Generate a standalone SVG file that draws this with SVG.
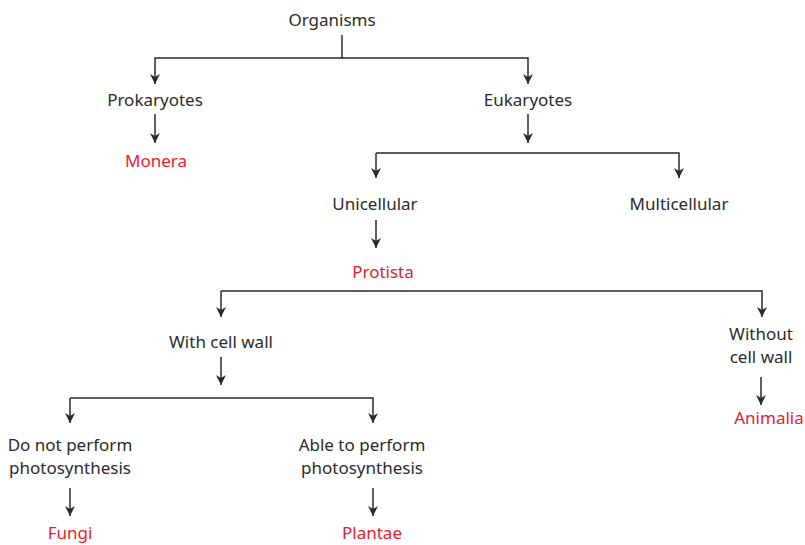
<svg xmlns="http://www.w3.org/2000/svg" width="805" height="545" viewBox="0 0 805 545">
<style>
text{font-family:"Noto Sans","Open Sans",sans-serif;font-size:17px;fill:#2b2b2b;text-anchor:middle}
text.r{fill:#e8202a}
.c path{fill:none;stroke:#2b2b2b;stroke-width:1.5}
</style>
<defs>
<marker id="a" viewBox="0 0 10 10" refX="10" refY="5" markerWidth="10" markerHeight="10" markerUnits="userSpaceOnUse" orient="auto">
<path d="M0,0 L10,5 L0,10 L3,5 Z" fill="#2b2b2b"/>
</marker>
</defs>
<rect width="805" height="545" fill="#fff"/>
<g class="c">
<path d="M342,35 V58"/>
<path d="M342,58 H155 V84" marker-end="url(#a)"/>
<path d="M342,58 H528 V84" marker-end="url(#a)"/>
<path d="M155,114 V143" marker-end="url(#a)"/>
<path d="M528,114 V143" marker-end="url(#a)"/>
<path d="M376,153 H679 V178" marker-end="url(#a)"/>
<path d="M376,153 V178" marker-end="url(#a)"/>
<path d="M376,220 V248" marker-end="url(#a)"/>
<path d="M221,291 H762 V317" marker-end="url(#a)"/>
<path d="M221,291 V317" marker-end="url(#a)"/>
<path d="M221,357 V385" marker-end="url(#a)"/>
<path d="M70,398 H373 V423" marker-end="url(#a)"/>
<path d="M70,398 V423" marker-end="url(#a)"/>
<path d="M761,377 V405" marker-end="url(#a)"/>
<path d="M70,488 V516" marker-end="url(#a)"/>
<path d="M373,488 V516" marker-end="url(#a)"/>
</g>
<g id="organisms"><text x="332" y="26">Organisms</text></g>
<g id="prokaryotes"><text x="155" y="106">Prokaryotes</text></g>
<g id="eukaryotes"><text x="528" y="106">Eukaryotes</text></g>
<g id="monera"><text class="r" x="156" y="167">Monera</text></g>
<g id="unicellular"><text x="375" y="210">Unicellular</text></g>
<g id="multicellular"><text x="679" y="210">Multicellular</text></g>
<g id="protista"><text class="r" x="383" y="278">Protista</text></g>
<g id="withwall"><text x="221" y="348">With cell wall</text></g>
<g id="withoutwall"><text x="761" y="340">Without</text><text x="761" y="363">cell wall</text></g>
<g id="animalia"><text class="r" x="769" y="424">Animalia</text></g>
<g id="nophoto"><text x="70" y="451">Do not perform</text><text x="70" y="474">photosynthesis</text></g>
<g id="photo"><text x="362" y="451">Able to perform</text><text x="362" y="474">photosynthesis</text></g>
<g id="fungi"><text class="r" x="70" y="539">Fungi</text></g>
<g id="plantae"><text class="r" x="372" y="539">Plantae</text></g>
</svg>
